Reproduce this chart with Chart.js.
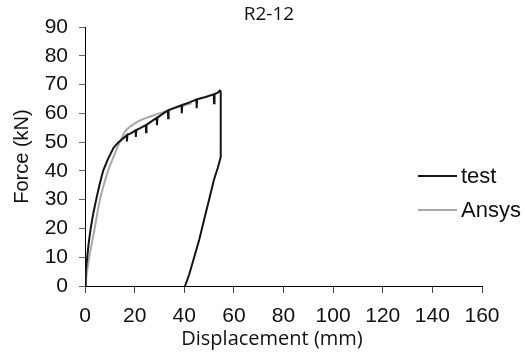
<!DOCTYPE html>
<html>
<head>
<meta charset="utf-8">
<title>R2-12</title>
<script src="https://cdn.jsdelivr.net/npm/chart.js@4.4.1/dist/chart.umd.min.js"></script>
<style>
    html, body { margin: 0; padding: 0; background: #fff; }
</style>
</head>
<body>
<canvas id="grafico" width="525" height="355"></canvas>
<script>
// --- Dados (deslocamento em mm, força em kN) ---
const testDisp = [0, 0.2, 0.4, 0.9, 1.5, 2.3, 3.3, 4.5, 5.8, 7.3, 9.2, 11.5, 13.5, 15,
    16.8, 16.9, 17.1, 18.8, 20.4, 20.5, 20.7, 22.6, 24.5, 24.6, 24.8, 26.8,
    28.9, 29, 29.2, 31.3, 33.4, 33.5, 33.7, 36.3, 38.9, 39, 39.2, 42.1,
    44.9, 45, 45.2, 48.6, 51.9, 52, 52.2, 53.5, 54.3,
    54.7, 54.7, 54.7, 54.7, 53.5, 52, 50, 48, 46, 44, 42, 40.3];
const testForce = [0, 3, 5, 10, 15, 20, 25, 30, 35, 40, 44, 48, 50, 51,
    52.4, 50.2, 52.5, 53.2, 54.1, 51.8, 54.2, 55, 55.9, 53.4, 56, 57.2,
    58.4, 55.9, 58.5, 59.8, 61, 58.3, 61.1, 62, 62.8, 60, 62.9, 63.8,
    64.8, 61.8, 64.9, 65.7, 66.6, 63.5, 66.7, 67.2, 67.9,
    67.6, 50, 46, 44.8, 41, 37, 30, 23, 16, 10, 4, 0];

const ansysDisp = [0, 1.7, 3.9, 6, 9.3, 12, 14, 16, 18, 22, 26, 30, 34, 38, 43];
const ansysForce = [0, 10, 20, 30, 40, 46, 50, 53.5, 55.3, 57.5, 58.8, 60, 61.2, 62.3, 63.5];

const seriesNames = ['test', 'Ansys'];
const chartTitle = 'R2-12';
const xTitle = 'Displacement (mm)';
const yTitle = 'Force (kN)';
const xRange = [0, 160];
const yRange = [0, 90];

// --- Helpers ---
const toPoints = (xs, ys) => xs.map((x, i) => ({ x: x, y: ys[i] }));

// Plugin simples: título, título do eixo X e legenda desenhados na posição da figura original
const extrasPlugin = {
    id: 'extras',
    afterDraw(chart) {
        const ctx = chart.ctx;
        const area = chart.chartArea;
        ctx.save();

        // título no topo
        ctx.fillStyle = '#111';
        ctx.textAlign = 'center';
        ctx.textBaseline = 'middle';
        ctx.font = '19px "Open Sans"';
        ctx.fillText(chartTitle, 269, 15);

        // título do eixo X
        ctx.font = '20px "Open Sans"';
        ctx.fillText(xTitle, 272, 339);

        // legenda (à direita, dentro da área)
        ctx.textAlign = 'left';
        ctx.font = '22px "Liberation Sans"';
        chart.data.datasets.forEach((ds, i) => {
            const y = 176 + i * 34;
            ctx.strokeStyle = ds.borderColor;
            ctx.lineWidth = ds.borderWidth;
            ctx.beginPath();
            ctx.moveTo(area.right - 64, y);
            ctx.lineTo(area.right - 25, y);
            ctx.stroke();
            ctx.fillStyle = '#111';
            ctx.fillText(ds.label, area.right - 21, y + 1);
        });
        ctx.restore();
    }
};

const ctx = document.getElementById('grafico').getContext('2d');
new Chart(ctx, {
    type: 'scatter',
    data: {
        datasets: [
            {
                label: seriesNames[0],
                data: toPoints(testDisp, testForce),
                showLine: true,
                borderColor: '#141414',
                borderWidth: 2,
                pointRadius: 0,
                tension: 0
            },
            {
                label: seriesNames[1],
                data: toPoints(ansysDisp, ansysForce),
                showLine: true,
                borderColor: '#a9a9a9',
                borderWidth: 2,
                pointRadius: 0,
                tension: 0.2
            }
        ]
    },
    options: {
        responsive: false,
        animation: false,
        layout: { padding: { top: 27, right: 43, left: 0, bottom: 0 } },
        plugins: {
            legend: { display: false },
            tooltip: { enabled: false }
        },
        scales: {
            x: {
                type: 'linear',
                min: xRange[0],
                max: xRange[1],
                border: { color: '#000', width: 1 },
                grid: { drawOnChartArea: false, drawTicks: true, tickLength: 7, color: '#444' },
                ticks: {
                    stepSize: 20,
                    color: '#111',
                    padding: 11,
                    font: { family: 'Liberation Sans', size: 21 }
                },
                afterFit: (scale) => { scale.height = 69; }
            },
            y: {
                min: yRange[0],
                max: yRange[1],
                border: { color: '#000', width: 1 },
                grid: { drawOnChartArea: false, drawTicks: true, tickLength: 6, color: '#666' },
                ticks: {
                    stepSize: 10,
                    color: '#111',
                    padding: 11,
                    font: { family: 'Liberation Sans', size: 21 }
                },
                title: {
                    display: true,
                    text: yTitle,
                    color: '#111',
                    padding: { top: 10, bottom: 0 },
                    font: { family: 'Liberation Sans', size: 20 }
                },
                afterFit: (scale) => { scale.width = 85; }
            }
        }
    },
    plugins: [extrasPlugin]
});
</script>
</body>
</html>
